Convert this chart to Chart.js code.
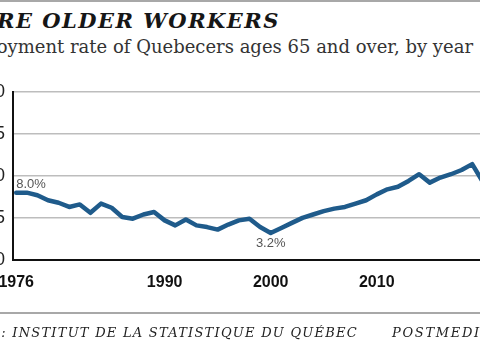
<!DOCTYPE html>
<html lang="en">
<head>
  <meta charset="UTF-8" />
  <title>More older workers</title>
  <script src="https://cdn.jsdelivr.net/npm/chart.js"></script>
  <style>
    html, body { margin: 0; padding: 0; background: #fff; }
    body { width: 480px; height: 340px; overflow: hidden; position: relative; }
    .rule { position: absolute; left: 0; width: 480px; background: #a8a8a8; }
    .txt { position: absolute; white-space: nowrap; font-family: 'DejaVu Serif', serif; }
    #title { right: 200px; top: 8px; font-size: 21px; font-weight: bold; font-style: italic; letter-spacing: 1.5px; color: #161616; }
    #subtitle { right: 7px; top: 36px; font-size: 18px; color: #333; }
    #source { right: 122px; top: 325px; font-size: 13px; font-style: italic; letter-spacing: 1.25px; color: #222; }
    #credit { left: 392px; top: 325px; font-size: 13px; font-style: italic; letter-spacing: 1.7px; color: #222; }
    #wrap { position: absolute; left: -37px; top: 70px; width: 541px; height: 245px; }
  </style>
</head>
<body>
  <div class="rule" style="top:0;height:2px"></div>
  <div class="txt" id="title">MORE OLDER WORKERS</div>
  <div class="txt" id="subtitle">Employment rate of Quebecers ages 65 and over, by year</div>
  <div id="wrap"><canvas id="chart"></canvas></div>
  <div class="rule" style="top:312px;height:2px"></div>
  <div class="txt" id="source">SOURCE: INSTITUT DE LA STATISTIQUE DU QUÉBEC</div>
  <div class="txt" id="credit">POSTMEDIA NEWS</div>

  <script>
    // employment rate, % of Quebecers 65+
    const years = [1976, 1977, 1978, 1979, 1980, 1981, 1982, 1983, 1984, 1985,
                   1986, 1987, 1988, 1989, 1990, 1991, 1992, 1993, 1994, 1995,
                   1996, 1997, 1998, 1999, 2000, 2001, 2002, 2003, 2004, 2005,
                   2006, 2007, 2008, 2009, 2010, 2011, 2012, 2013, 2014, 2015,
                   2016, 2017, 2018, 2019, 2020];
    const rates = [8.0, 8.0, 7.7, 7.1, 6.8, 6.3, 6.6, 5.6, 6.7, 6.2,
                   5.1, 4.9, 5.4, 5.7, 4.7, 4.1, 4.8, 4.1, 3.9, 3.6,
                   4.2, 4.7, 4.9, 3.9, 3.2, 3.8, 4.4, 5.0, 5.4, 5.8,
                   6.1, 6.3, 6.7, 7.1, 7.8, 8.4, 8.7, 9.4, 10.2, 9.2,
                   9.8, 10.2, 10.7, 11.4, 9.3];
    const xTicks = [1976, 1990, 2000, 2010];
    const yTicks = [0, 5, 10, 15, 20];
    const callouts = [
      { year: 1976, text: '8.0%' },
      { year: 2000, text: '3.2%' }
    ];

    const calloutStyle = {
      1976: { align: 'left', dy: -8.5 },
      2000: { align: 'center', dy: 10.5 }
    };

    const calloutPlugin = {
      id: 'callouts',
      afterDatasetsDraw(chart) {
        const { ctx, scales } = chart;
        ctx.save();
        ctx.font = '13px "Liberation Sans", Arial, sans-serif';
        ctx.fillStyle = '#555';
        ctx.textBaseline = 'middle';
        callouts.forEach(c => {
          const v = rates[years.indexOf(c.year)];
          const st = calloutStyle[c.year];
          ctx.textAlign = st.align;
          ctx.fillText(c.text, scales.x.getPixelForValue(c.year), scales.y.getPixelForValue(v) + st.dy);
        });
        ctx.restore();
      }
    };

    new Chart(document.getElementById('chart'), {
      type: 'line',
      data: {
        datasets: [{
          data: years.map((y, i) => ({ x: y, y: rates[i] })),
          borderColor: '#1f5b8b',
          borderWidth: 4.5,
          pointRadius: 0,
          tension: 0,
          borderJoinStyle: 'round',
          borderCapStyle: 'round'
        }]
      },
      options: {
        responsive: true,
        maintainAspectRatio: false,
        animation: false,
        layout: { padding: { top: 22, right: 0, bottom: 10, left: 0 } },
        plugins: { legend: { display: false }, tooltip: { enabled: false } },
        scales: {
          x: {
            type: 'linear',
            min: 1975.7,
            max: 2022,
            afterBuildTicks: s => { s.ticks = xTicks.map(v => ({ value: v })); },
            grid: { display: false, drawTicks: false },
            border: { color: '#111', width: 2 },
            ticks: {
              padding: 13,
              maxRotation: 0,
              autoSkip: false,
              color: '#111',
              font: { family: '"Liberation Sans", Arial, sans-serif', size: 16, weight: 'bold' },
              callback: v => String(v)
            }
          },
          y: {
            min: 0,
            max: 20,
            afterBuildTicks: s => { s.ticks = yTicks.map(v => ({ value: v })); },
            afterFit: s => { s.width = 50; },
            grid: { color: '#bdbdbd', lineWidth: 1.5, drawTicks: false },
            border: { color: '#111', width: 2 },
            ticks: {
              padding: 8,
              color: '#222',
              font: { family: '"Liberation Sans", Arial, sans-serif', size: 18 },
              callback: v => String(v)
            }
          }
        }
      },
      plugins: [calloutPlugin]
    });
  </script>
</body>
</html>
